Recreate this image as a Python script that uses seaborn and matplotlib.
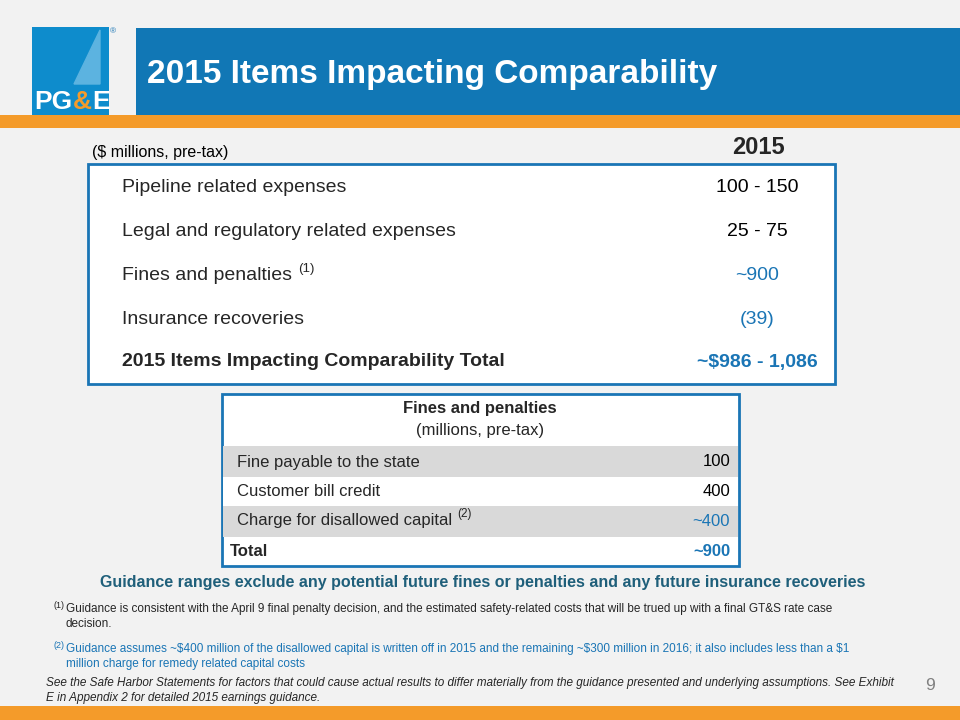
import matplotlib
matplotlib.use("Agg")
import matplotlib.pyplot as plt
from matplotlib.patches import Rectangle
import seaborn as sns

sns.set_theme(style="white")
plt.rcParams['font.family'] = ['Liberation Sans', 'DejaVu Sans']

BLUE = "#1a75b5"
ORANGE = "#f49b2a"

title = "2015 Items Impacting Comparability"
main_labels = ["Pipeline related expenses", "Legal and regulatory related expenses",
               "Fines and penalties", "Insurance recoveries",
               "2015 Items Impacting Comparability Total"]
main_values = ["100 - 150", "25 - 75", "~900", "(39)", "~$986 - 1,086"]
main_sup = ["", "", "(1)", "", ""]
fine_labels = ["Fine payable to the state", "Customer bill credit",
               "Charge for disallowed capital", "Total"]
fine_values = ["100", "400", "~400", "~900"]
fine_sup = ["", "", "(2)", ""]
note1 = ("Guidance is consistent with the April 9 final penalty decision, and the estimated safety-related costs that will be trued up with a final GT&S rate case",
         "decision.")
note2 = ("Guidance assumes ~$400 million of the disallowed capital is written off in 2015 and the remaining ~$300 million in 2016; it also includes less than a $1",
         "million charge for remedy related capital costs")
safe = ("See the Safe Harbor Statements for factors that could cause actual results to differ materially from the guidance presented and underlying assumptions. See Exhibit",
        "E in Appendix 2 for detailed 2015 earnings guidance.")

fig = plt.figure(figsize=(9.6, 7.2), dpi=100)
fig.patch.set_facecolor("#f2f2f2")
ax = fig.add_axes([0, 0, 1, 1])
ax.set_xlim(0, 960)
ax.set_ylim(720, 0)
ax.axis("off")
renderer = fig.canvas.get_renderer()

def rect(x, y, w, h, fc, ec="none", lw=0, z=1):
    ax.add_patch(Rectangle((x, y), w, h, facecolor=fc, edgecolor=ec, linewidth=lw, zorder=z))

def right_px(t):
    return t.get_window_extent(renderer).x1

# header
rect(32, 27, 77, 88, "#0e8ccc")
ax.fill([74, 100, 100, 80], [84, 30, 84, 84], color="#5cb3e0", zorder=2)
x = 34
for part, col in [("PG", "white"), ("&", ORANGE), ("E", "white")]:
    t = ax.text(x, 114, part, color=col, fontsize=19, fontweight="bold", va="bottom", zorder=3)
    x = right_px(t) + 0.5
ax.text(110, 33, "®", color=BLUE, fontsize=6)
rect(136, 28, 824, 87, "#1177b5")
ax.text(147, 74, title, color="white", fontsize=24, fontweight="bold", va="center")
rect(0, 115, 960, 13, ORANGE)
rect(0, 706, 960, 14, ORANGE)

# main table
ax.text(92, 152, "($ millions, pre-tax)", fontsize=11.5, va="center", color="black")
ax.text(758, 147, "2015", fontsize=17, fontweight="bold", ha="center", va="center")
rect(88, 164, 747, 220, "white", BLUE, 2)
main_y = [187, 231, 276, 320, 362]
for i, (lab, val, sup, y) in enumerate(zip(main_labels, main_values, main_sup, main_y)):
    bold = i == len(main_labels) - 1
    t = ax.text(122, y, lab, fontsize=14, fontweight="bold" if bold else "normal", va="center", zorder=3)
    if sup:
        ax.text(right_px(t) + 6, y - 7, sup, fontsize=9.5, va="center", zorder=3)
    col = "black" if i < 2 else BLUE
    ax.text(757, y, val, fontsize=14, color=col, fontweight="bold" if bold else "normal",
            ha="center", va="center", zorder=3)

# fines table
rect(222, 394, 517, 172, "white", BLUE, 2)
ax.text(480, 408, "Fines and penalties", fontsize=12, fontweight="bold", ha="center", va="center", zorder=3)
ax.text(480, 431, "(millions, pre-tax)", fontsize=12, ha="center", va="center", zorder=3)
bands = [(446, 31, "#d9d9d9"), (477, 29, "white"), (506, 31, "#d9d9d9")]
for y, h, c in bands:
    rect(223, y, 515, h, c, z=2)
fine_y = [462, 492, 521, 552]
for i, (lab, val, sup, y) in enumerate(zip(fine_labels, fine_values, fine_sup, fine_y)):
    total = lab == "Total"
    t = ax.text(230 if total else 237, y, lab, fontsize=12, fontweight="bold" if total else "normal",
                va="center", zorder=3)
    if sup:
        ax.text(right_px(t) + 5, y - 7, sup, fontsize=8.5, va="center", zorder=3)
    col = BLUE if i >= 2 else "black"
    ax.text(730, y, val, fontsize=12, color=col, fontweight="bold" if total else "normal",
            ha="right", va="center", zorder=3)

# notes
ax.text(483, 583, "Guidance ranges exclude any potential future fines or penalties and any future insurance recoveries",
        fontsize=11.5, fontweight="bold", color="#1f5f7a", ha="center", va="center")
ax.text(54, 605, "(1)", fontsize=6.5, va="center")
ax.text(66, 609, note1[0], fontsize=8.5, va="center")
ax.text(66, 624, note1[1], fontsize=8.5, va="center")
ax.text(54, 645, "(2)", fontsize=6.5, va="center", color=BLUE)
ax.text(66, 649, note2[0], fontsize=8.5, va="center", color=BLUE)
ax.text(66, 664, note2[1], fontsize=8.5, va="center", color=BLUE)
ax.text(46, 683, safe[0], fontsize=8.5, style="italic", va="center")
ax.text(46, 698, safe[1], fontsize=8.5, style="italic", va="center")
ax.text(925, 686, "9", fontsize=12.5, color="#808080", va="center")

fig.savefig("out.png", dpi=100, facecolor=fig.get_facecolor())
